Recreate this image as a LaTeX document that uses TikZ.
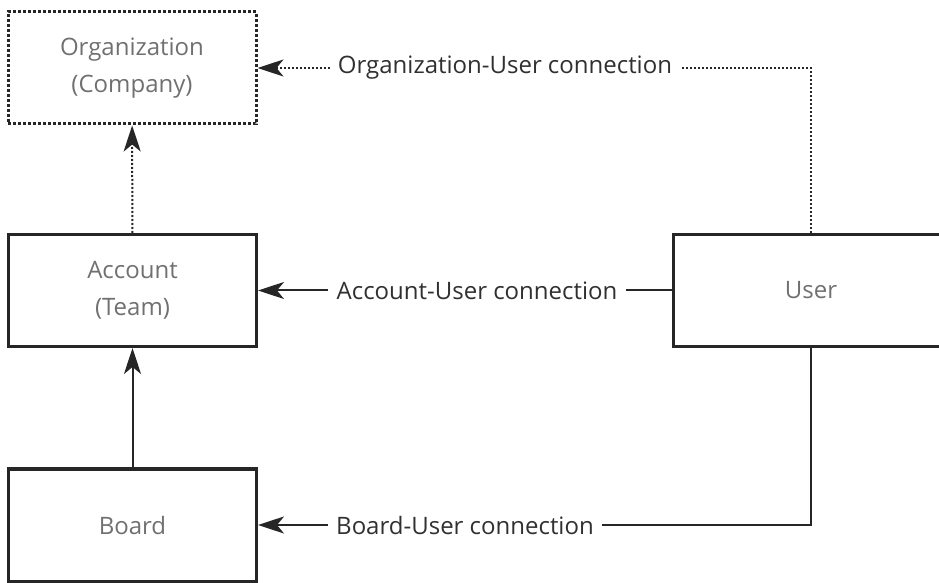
\documentclass[tikz,border=0pt]{standalone}
\usepackage{fontspec}
\setmainfont{Open Sans}
\usetikzlibrary{arrows.meta}
\definecolor{boxtext}{HTML}{707070}
\definecolor{linecol}{HTML}{262626}
\definecolor{lbltext}{HTML}{303030}
\begin{document}
\begin{tikzpicture}[x=.5pt,y=-.5pt,
    font=\fontsize{12}{18.5}\selectfont,
    entity/.style={draw=linecol,line width=1.5pt,text=boxtext,align=center,
      minimum width=124pt,minimum height=56pt,inner sep=0pt},
    conn/.style={draw=linecol,line width=1pt},
    dots/.style={conn,dash pattern=on 1pt off 1pt},
    tip/.style={-{Stealth[length=13pt,width=8.5pt,inset=3.5pt]}},
    lbl/.style={text=lbltext,inner xsep=4pt,inner ysep=0pt}]
  \useasboundingbox (0,0) rectangle (939,583);
  % boxes
  \node[entity,dash pattern=on 1.5pt off 1pt] (org) at (132,68) {Organization\\(Company)};
  \node[entity] (acc) at (132.5,290.5) {Account\\(Team)};
  \node[entity] (board) at (132.5,525) {Board};
  \node[entity,minimum width=138pt] (user) at (811,290.5) {User};
  % labels
  \node[lbl] (orglbl) at (505,68) {Organization-User connection};
  \node[lbl] (acclbl) at (477,290.5) {Account-User connection};
  \node[lbl] (boardlbl) at (465,525) {Board-User connection};
  % connectors
  \draw[dots,tip] (acc) -- (org);
  \draw[conn,tip] (board) -- (acc);
  \draw[dots] (user.north) |- (orglbl.east);
  \draw[dots,tip] (orglbl) -- (org);
  \draw[conn] (user) -- (acclbl);
  \draw[conn,tip] (acclbl) -- (acc);
  \draw[conn] (user.south) |- (boardlbl.east);
  \draw[conn,tip] (boardlbl) -- (board);
\end{tikzpicture}
\end{document}
